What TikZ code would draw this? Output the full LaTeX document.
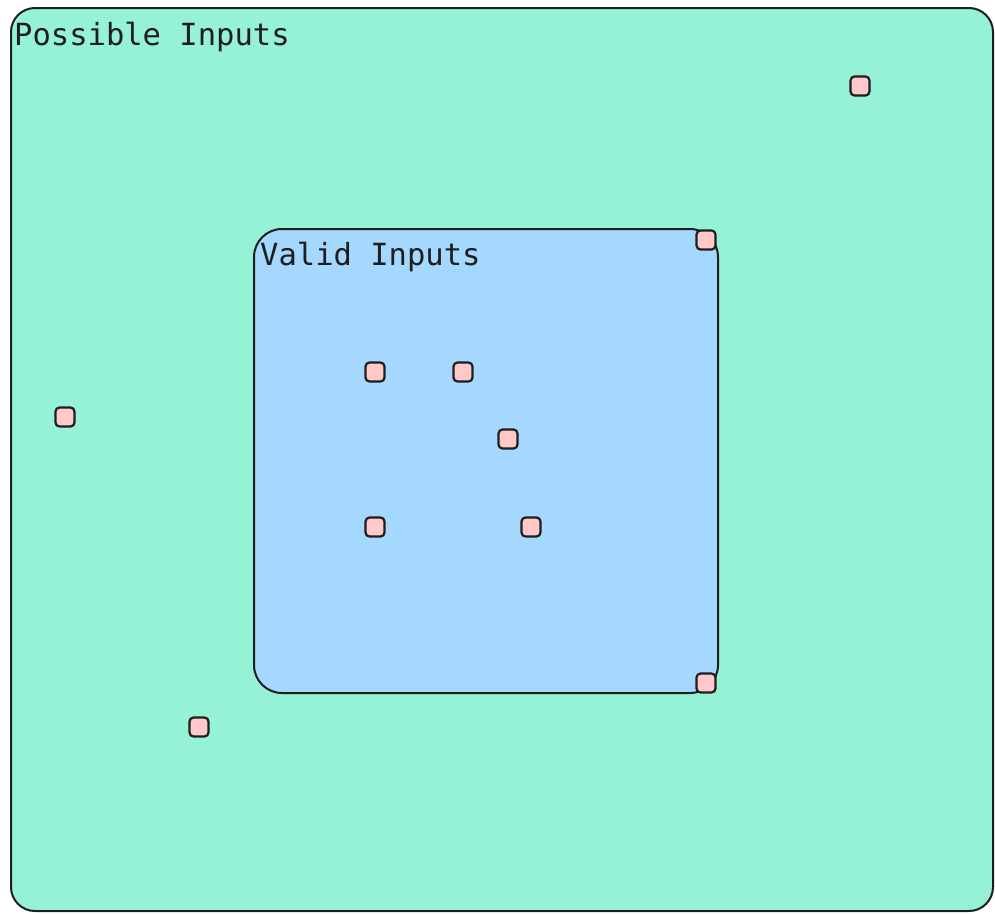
\documentclass[tikz,border=0pt]{standalone}
\usepackage{fontspec}
\setmonofont{DejaVu Sans Mono}
\usepackage{tikz}
\usetikzlibrary{positioning}
\definecolor{possfill}{HTML}{96F2D7}
\definecolor{validfill}{HTML}{A5D8FF}
\definecolor{ptfill}{HTML}{FFC9C9}
\definecolor{ink}{HTML}{1E1E1E}

\begin{document}
\begin{tikzpicture}[
  x=1pt, y=-1pt,
  region/.style={draw=ink, line width=2pt, rounded corners=24pt},
  lbl/.style={anchor=base west, inner sep=0pt, text=ink, font=\fontsize{30.5}{34}\selectfont\ttfamily},
  pt/.style={rectangle, draw=ink, line width=2.2pt, fill=ptfill, rounded corners=4pt, minimum size=19pt, inner sep=0pt}]
\useasboundingbox (0,0) rectangle (995,913);
\draw[region, fill=possfill] (11,8) rectangle (993,911);
\draw[region, fill=validfill, rounded corners=28pt] (254,229) rectangle (718,693);
\node[lbl] (poss) at (14,45) {Possible Inputs};
\node[lbl] (valid) at (260,265) {Valid Inputs};
% inputs
\node[pt] (p1) at (860,86) {};
\node[pt] (p2) at (706,240) {};
\node[pt] (p3) at (65,417) {};
\node[pt] (p4) at (375,372) {};
\node[pt] (p5) at (463,372) {};
\node[pt] (p6) at (508,439) {};
\node[pt] (p7) at (375,527) {};
\node[pt] (p8) at (531,527) {};
\node[pt] (p9) at (706,683) {};
\node[pt] (p10) at (199,727) {};
\end{tikzpicture}
\end{document}
